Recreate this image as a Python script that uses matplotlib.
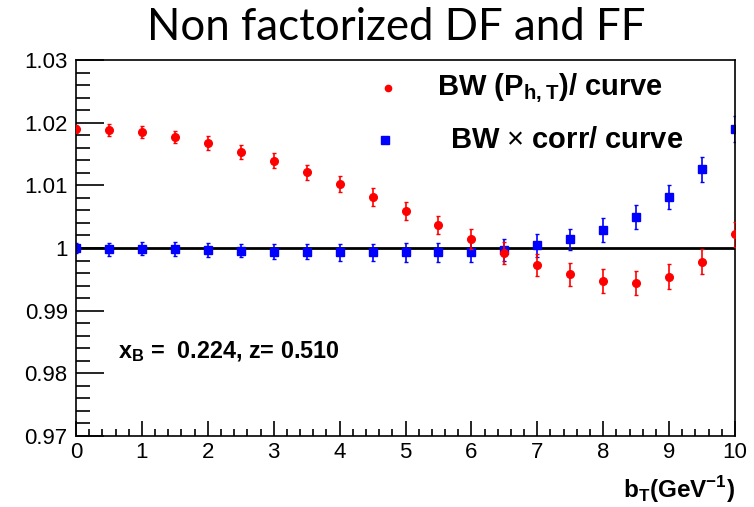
import matplotlib
matplotlib.use("Agg")
import matplotlib.pyplot as plt
from matplotlib.ticker import MultipleLocator, FixedLocator, FixedFormatter

bT = [0, 0.5, 1, 1.5, 2, 2.5, 3, 3.5, 4, 4.5, 5, 5.5, 6, 6.5, 7, 7.5, 8, 8.5, 9, 9.5, 10]
red_vals = [1.0190, 1.0188, 1.0185, 1.0177, 1.0168, 1.0153, 1.0139, 1.0121, 1.0102, 1.0081,
            1.0059, 1.0037, 1.0014, 0.9992, 0.9973, 0.9958, 0.9947, 0.9944, 0.9954, 0.9978, 1.0022]
red_err = [0.0007, 0.0010, 0.0010, 0.0010, 0.0011, 0.0011, 0.0012, 0.0012, 0.0013, 0.0014,
           0.0014, 0.0014, 0.0016, 0.0017, 0.0017, 0.0018, 0.0019, 0.0019, 0.0020, 0.0020, 0.0020]
blue_vals = [1.0000, 0.9998, 0.9999, 0.9998, 0.9997, 0.9996, 0.9994, 0.9994, 0.9993, 0.9993,
             0.9993, 0.9993, 0.9994, 0.9997, 1.0004, 1.0014, 1.0029, 1.0050, 1.0081, 1.0126, 1.0190]
blue_err = [0.0008, 0.0010, 0.0010, 0.0011, 0.0011, 0.0011, 0.0012, 0.0012, 0.0013, 0.0014,
            0.0015, 0.0015, 0.0016, 0.0017, 0.0018, 0.0017, 0.0019, 0.0019, 0.0019, 0.0020, 0.0021]
y_ticks = [0.97, 0.98, 0.99, 1.00, 1.01, 1.02, 1.03]
y_labels = ["0.97", "0.98", "0.99", "1", "1.01", "1.02", "1.03"]

plt.rcParams['font.family'] = ['Liberation Sans', 'DejaVu Sans']
plt.rcParams['mathtext.fontset'] = 'custom'
plt.rcParams['mathtext.rm'] = 'Liberation Sans'
plt.rcParams['mathtext.bf'] = 'Liberation Sans:bold'

fig = plt.figure(figsize=(7.54, 5.07), dpi=100)
ax = fig.add_axes([76/754, 1-436/507, (735-76)/754, (436-60)/507])

ax.axhline(1.0, color='black', lw=2, zorder=1)
ax.errorbar(bT, red_vals, yerr=red_err, fmt='o', color='#ff0000', ms=5.5,
            elinewidth=1.2, capsize=1.5, capthick=1, zorder=3)
ax.errorbar(bT, blue_vals, yerr=blue_err, fmt='s', color='#0000ff', ms=6,
            elinewidth=1.2, capsize=1.5, capthick=1, zorder=2)

ax.set_xlim(0, 10)
ax.set_ylim(0.97, 1.03)
ax.xaxis.set_major_locator(MultipleLocator(1))
ax.xaxis.set_minor_locator(MultipleLocator(0.2))
ax.yaxis.set_major_locator(FixedLocator(y_ticks))
ax.yaxis.set_major_formatter(FixedFormatter(y_labels))
ax.yaxis.set_minor_locator(MultipleLocator(0.002))
ax.tick_params(axis='both', which='both', direction='in', top=False, right=False,
               labelsize=16, width=1.2)
ax.tick_params(axis='y', which='major', length=20, pad=6)
ax.tick_params(axis='y', which='minor', length=10)
ax.tick_params(axis='x', which='major', length=11, pad=4)
ax.tick_params(axis='x', which='minor', length=5)
for s in ax.spines.values():
    s.set_linewidth(1.2)

# legend entries (markers placed in figure coordinates)
fig.add_artist(plt.Line2D([388/754], [1-88/507], marker='o', color='#ff0000', ms=4.5,
                          transform=fig.transFigure))
fig.add_artist(plt.Line2D([385/754], [1-140/507], marker='s', color='#0000ff', ms=6,
                          transform=fig.transFigure))
fig.text(550/754, 1-88/507, r"BW (P$_{\mathbf{h,T}}$)/ curve", fontsize=21, fontweight='bold',
         ha='center', va='center')
fig.text(567/754, 1-140/507, r"BW $\times$ corr/ curve", fontsize=21, fontweight='bold',
         ha='center', va='center')
fig.text(118/754, 1-352/507, r"x$_{\mathbf{B}}$ =  0.224, z= 0.510", fontsize=16.8,
         fontweight='bold', ha='left', va='center')
fig.text(735/754, 1-490/507, r"b$_{\mathbf{T}}$(GeV$^{\mathbf{-1}}$)", fontsize=17.5,
         fontweight='bold', ha='right', va='center')
fig.text(396/754, 1-28/507, "Non factorized DF and FF", fontsize=31.5,
         family=['Lato', 'DejaVu Sans'], ha='center', va='center')

fig.savefig("out.png", dpi=100)
